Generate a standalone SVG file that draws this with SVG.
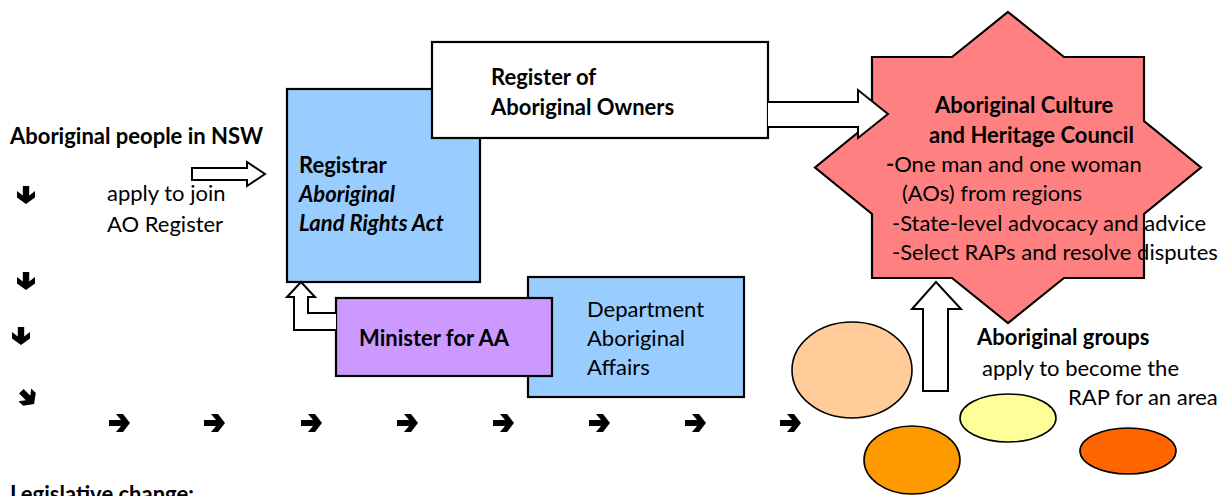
<svg xmlns="http://www.w3.org/2000/svg" xmlns:xlink="http://www.w3.org/1999/xlink" width="1226" height="496" viewBox="0 0 1226 496">
<defs>
<style>
text{font-family:Lato,"Open Sans","Liberation Sans",sans-serif;font-size:22px;fill:#000}
.b{font-weight:bold}
.bi{font-weight:bold;font-style:italic}
.box{stroke:#000;stroke-width:2.2}
.blk{fill:#fff;stroke:#000;stroke-width:2;stroke-linejoin:miter}
.ell{stroke:#000;stroke-width:1.6}
</style>
<path id="ar" d="M-10,-3 H2 L-3,-9 H4 L11,0 L4,9 H-3 L2,3 H-10 Z" fill="#000"/>
<path id="ad" d="M-8,-3.2 H1.5 L-3,-9 H3.5 L10,0 L3.5,9 H-3 L1.5,3.2 H-8 Z" fill="#000"/>
</defs>
<rect width="1226" height="496" fill="#fff"/>

<g id="people-label">
<text class="b" x="10" y="144">Aboriginal people in NSW</text>
<text x="107" y="201">apply to join</text>
<text x="107" y="232">AO Register</text>
</g>

<g id="registrar">
<rect class="box" x="287" y="89" width="193" height="193" fill="#99CCFF"/>
<text class="b" x="299" y="173">Registrar</text>
<text class="bi" x="299" y="202">Aboriginal</text>
<text class="bi" x="299" y="231">Land Rights Act</text>
</g>

<g id="register-ao">
<rect class="box" x="432" y="42" width="336" height="96" fill="#fff"/>
<text class="b" x="491" y="85">Register of</text>
<text class="b" x="491" y="115">Aboriginal Owners</text>
</g>

<g id="department">
<rect class="box" x="528" y="277" width="216" height="120" fill="#99CCFF"/>
<text x="587" y="317">Department</text>
<text x="587" y="346">Aboriginal</text>
<text x="587" y="375">Affairs</text>
</g>

<g id="minister">
<rect class="box" x="336" y="298" width="216" height="78" fill="#CC99FF"/>
<text class="b" x="359" y="346">Minister for AA</text>
</g>

<g id="council">
<polygon class="box" fill="#FF8080" points="1008,12 1064,57 1144,57 1144,121 1201,167.5 1144,214 1144,278 1064,278 1008,323 952,278 872,278 872,214 815,167.5 872,121 872,57 952,57"/>
<text class="b" x="935" y="113">Aboriginal Culture</text>
<text class="b" x="929" y="143">and Heritage Council</text>
<text x="886" y="172"><tspan class="b">-</tspan>One man and one woman</text>
<text x="902" y="201">(AOs) from regions</text>
<text x="892" y="231">-State-level advocacy and advice</text>
<text x="892" y="260">-Select RAPs and resolve disputes</text>
</g>

<g id="groups-label">
<text class="b" x="977" y="345">Aboriginal groups</text>
<text x="982" y="376">apply to become the</text>
<text x="1068" y="405">RAP for an area</text>
</g>

<g id="rap-groups">
<ellipse class="ell" cx="852" cy="370" rx="60" ry="48" fill="#FFCC99"/>
<ellipse class="ell" cx="1008" cy="418" rx="48" ry="24" fill="#FFFF99"/>
<ellipse class="ell" cx="912" cy="460" rx="48" ry="34" fill="#FF9900"/>
<ellipse class="ell" cx="1128" cy="451" rx="48" ry="23" fill="#FF6600"/>
</g>

<g id="connectors">
<path class="blk" d="M192,168 H247 V162 L265,174 L247,186 V180 H192 Z"/>
<path class="blk" d="M768,102 H858 V90 L888,114 L858,138 V127 H768"/>
<path class="blk" d="M336,313 H308 V297 H315 L301,282 L287,297 H294 V330 H336"/>
<path class="blk" d="M923,391 V309 H912 L936,282 L961,309 H948 V391 Z"/>
</g>

<g id="timeline-arrows">
<use xlink:href="#ad" transform="translate(26,194) rotate(90)"/>
<use xlink:href="#ad" transform="translate(26,280) rotate(90)"/>
<use xlink:href="#ad" transform="translate(21,335) rotate(90)"/>
<use xlink:href="#ad" transform="translate(27,397) rotate(45)"/>
<use xlink:href="#ar" transform="translate(119,423)"/>
<use xlink:href="#ar" transform="translate(214,423)"/>
<use xlink:href="#ar" transform="translate(311,423)"/>
<use xlink:href="#ar" transform="translate(407,423)"/>
<use xlink:href="#ar" transform="translate(503,423)"/>
<use xlink:href="#ar" transform="translate(599,423)"/>
<use xlink:href="#ar" transform="translate(695,423)"/>
<use xlink:href="#ar" transform="translate(790,423)"/>
</g>

<g id="footer">
<text class="b" x="10" y="502">Legislative change:</text>
</g>
</svg>
